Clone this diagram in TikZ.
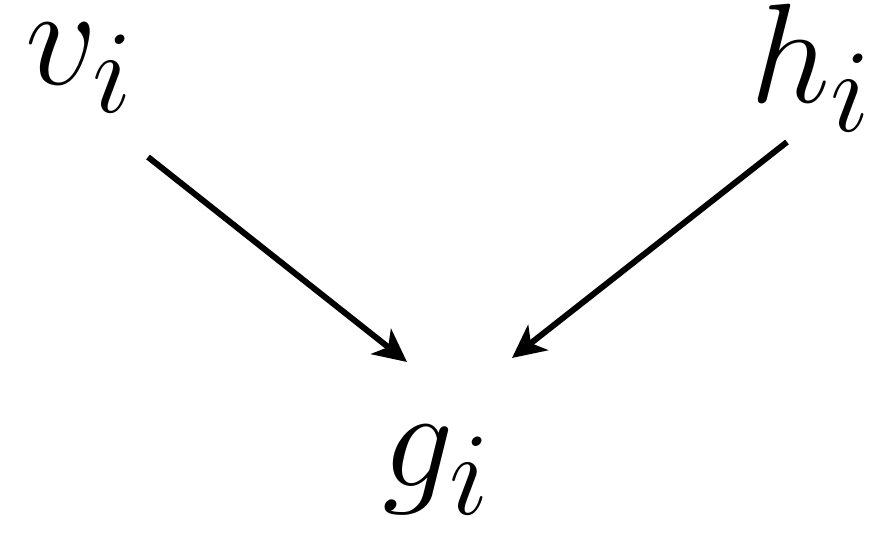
\documentclass[tikz,border=0pt]{standalone}
\usetikzlibrary{arrows.meta}

\begin{document}
\begin{tikzpicture}[x=1cm,y=1cm,
  lbl/.style={inner sep=0pt,font=\Huge,scale=1.62},
  arr/.style={line width=1.7pt,-{Stealth[length=3.3mm,width=3.2mm,inset=0.9mm]}}]
\useasboundingbox (0,0) rectangle (8.72,5.34);
\node[lbl] (v) at (0.8,4.66){$v_i$};\node[lbl] (h) at (8.12,4.66){$h_i$};\node[lbl] (g) at (4.37,0.64){$g_i$};
\coordinate (vout) at (1.48,3.77);\coordinate (hout) at (7.87,3.92);
\coordinate (gin1) at (4.07,1.72);\coordinate (gin2) at (5.12,1.76);
\draw[arr] (vout)--(gin1);\draw[arr] (hout)--(gin2);
\end{tikzpicture}
\end{document}
